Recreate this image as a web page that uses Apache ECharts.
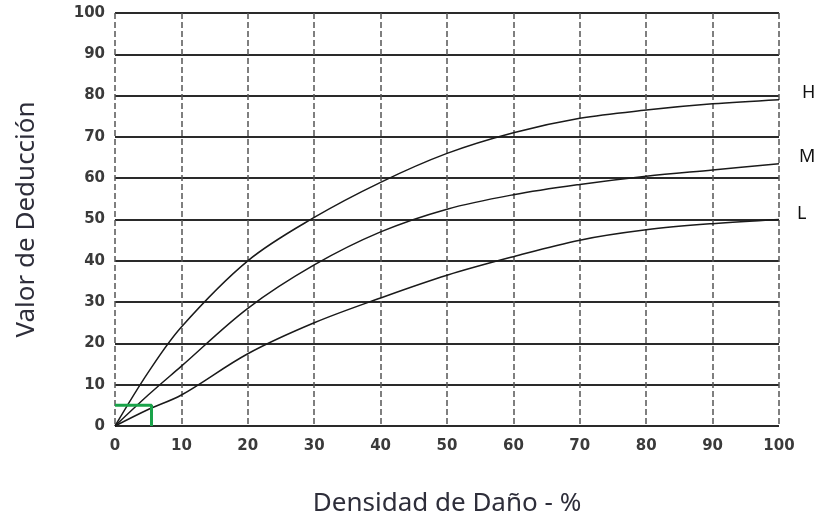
<!DOCTYPE html>
<html><head><meta charset="utf-8">
<script src="https://cdn.jsdelivr.net/npm/echarts@6/dist/echarts.min.js"></script>
<style>html,body{margin:0;padding:0;background:#fff}#c{width:824px;height:527px}</style>
</head><body><div id="c"></div>
<script>
const densidad = [0, 5, 10, 20, 30, 40, 50, 60, 70, 80, 90, 100];
const valorH = [0, 13, 24, 40, 50.5, 59, 66, 71, 74.5, 76.5, 78, 79];
const valorM = [0, 7.5, 14.5, 28.5, 39, 47, 52.5, 56, 58.5, 60.5, 62, 63.5];
const valorL = [0, 4, 7.5, 17.5, 25, 31, 36.5, 41, 45, 47.5, 49, 50];
const marcaX = [0, 5.5, 5.5];
const marcaY = [5, 5, 0];
const seriesNames = ['H', 'M', 'L'];
const xTitle = 'Densidad de Daño - %';
const yTitle = 'Valor de Deducción';

const pair = (xs, ys) => xs.map((x, i) => [x, ys[i]]);
const offsets = { H: [15, -7], M: [12, -7], L: [10, -6] };
const mk = (name, vals) => ({
  name, type: 'line', smooth: 0.35, symbol: 'none',
  data: pair(densidad, vals),
  lineStyle: { color: '#1a1a1a', width: 1.5 },
  endLabel: { show: true, formatter: name, color: '#111', fontSize: 18,
    fontFamily: 'Noto Sans', offset: offsets[name] },
  z: 3
});

const chart = echarts.init(document.getElementById('c'), null, { renderer: 'canvas' });
chart.setOption({
  animation: false,
  backgroundColor: '#fff',
  grid: { left: 115, right: 45, top: 13, bottom: 101, containLabel: false },
  xAxis: {
    type: 'value', min: 0, max: 100, interval: 10,
    name: xTitle, nameLocation: 'middle', nameGap: 65,
    nameTextStyle: { fontFamily: 'Noto Sans', fontSize: 26, color: '#2e2e3a' },
    axisLine: { show: false }, axisTick: { show: false },
    axisLabel: { fontFamily: 'DejaVu Sans', fontSize: 15, fontWeight: 'bold', color: '#3a3a3a', margin: 13 },
    splitLine: { show: true, lineStyle: { color: '#555', width: 1.5, type: [6, 3] } }
  },
  yAxis: {
    type: 'value', min: 0, max: 100, interval: 10,
    name: yTitle, nameLocation: 'middle', nameGap: 75,
    nameTextStyle: { fontFamily: 'Noto Sans', fontSize: 26, color: '#2e2e3a' },
    axisLine: { show: false }, axisTick: { show: false },
    axisLabel: { fontFamily: 'DejaVu Sans', fontSize: 15, fontWeight: 'bold', color: '#3a3a3a', margin: 10 },
    splitLine: { show: true, lineStyle: { color: '#2a2a2a', width: 2 } }
  },
  series: [
    mk(seriesNames[0], valorH),
    mk(seriesNames[1], valorM),
    mk(seriesNames[2], valorL),
    { name: 'marca', type: 'line', symbol: 'none', data: pair(marcaX, marcaY),
      lineStyle: { color: '#1aa34a', width: 3 }, z: 4 }
  ]
});
</script></body></html>
